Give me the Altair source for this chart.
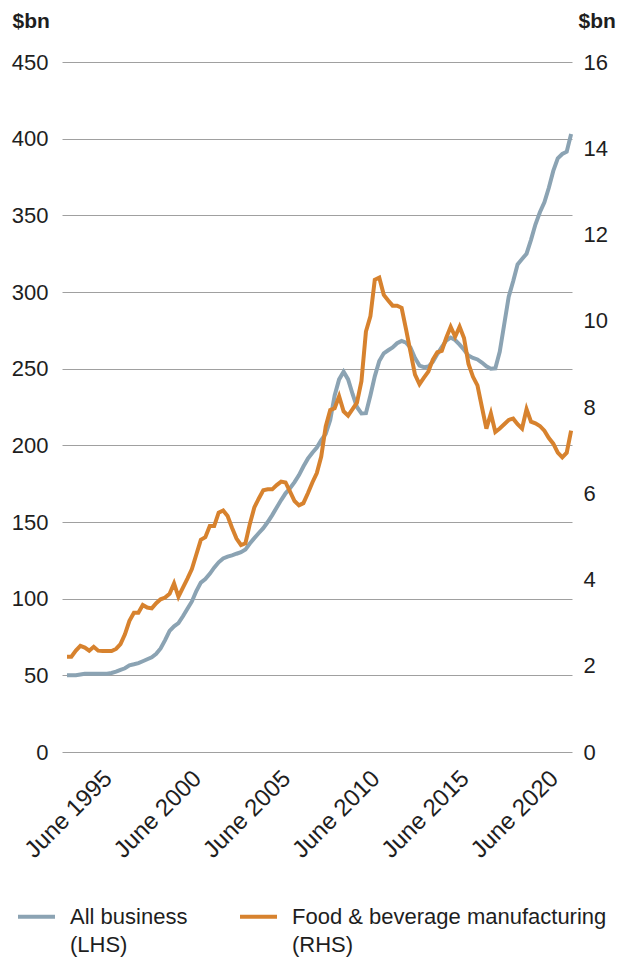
import altair as alt
import pandas as pd

# Quarterly observations, Dec 1992 - Mar 2021
dates = pd.date_range("1992-12-01", periods=114, freq="3MS").strftime("%Y-%m-%d").tolist()

all_business = [
    50, 50, 50, 50.5, 51, 51, 51, 51, 51, 51,
    51.5, 52.4, 53.6, 54.6, 56.5, 57.2, 58, 59.2, 60.5, 61.8,
    64, 67.5, 73, 79, 82, 84, 88.5, 93.4, 98.2, 105,
    110.5, 112.8, 116.2, 120.2, 123.7, 126.2, 127.4, 128.2, 129.3, 130.3,
    132, 136, 139.5, 142.8, 146, 150, 154.5, 159.5, 164.3, 168.7,
    172, 176, 180.6, 186.2, 191.3, 195.2, 198.5, 203.4, 207.5, 216.5,
    232.5, 243, 248, 243, 233.5, 225, 220.8, 221, 232.5, 245,
    255, 260, 262, 263.8, 266.6, 268.1, 267, 263.7, 257, 252,
    251, 251.4, 254.5, 259.5, 264, 268.3, 270.3, 268.7, 265.7, 262.3,
    258.5, 257, 256, 254, 251.5, 250, 250.2, 261, 279, 297,
    307, 318, 321.5, 325, 334, 344, 352, 358.5, 368, 379,
    387.2, 390, 391.5, 403,
]

food_beverage = [
    2.21, 2.21, 2.35, 2.46, 2.42, 2.35, 2.44, 2.35, 2.34, 2.34,
    2.34, 2.39, 2.50, 2.73, 3.04, 3.23, 3.23, 3.41, 3.35, 3.33,
    3.45, 3.54, 3.58, 3.67, 3.91, 3.60, 3.81, 4.02, 4.24, 4.58,
    4.92, 4.98, 5.24, 5.24, 5.55, 5.60, 5.47, 5.20, 4.95, 4.80,
    4.84, 5.29, 5.67, 5.88, 6.07, 6.09, 6.09, 6.19, 6.27, 6.25,
    6.04, 5.82, 5.72, 5.77, 6.00, 6.25, 6.47, 6.85, 7.55, 7.93,
    7.97, 8.25, 7.90, 7.80, 7.95, 8.10, 8.60, 9.75, 10.10, 10.95,
    11.00, 10.60, 10.47, 10.35, 10.35, 10.30, 9.80, 9.28, 8.75, 8.53,
    8.68, 8.82, 9.10, 9.27, 9.30, 9.60, 9.86, 9.63, 9.86, 9.60,
    9.00, 8.70, 8.50, 8.00, 7.50, 7.85, 7.42, 7.50, 7.60, 7.70,
    7.73, 7.60, 7.50, 7.95, 7.66, 7.62, 7.56, 7.45, 7.28, 7.15,
    6.94, 6.83, 6.94, 7.45,
]

series_names = ["All business|(LHS)", "Food & beverage manufacturing|(RHS)"]
series_colors = ["#8BA3B3", "#D7822E"]
lhs_ticks = list(range(0, 451, 50))
rhs_ticks = list(range(0, 17, 2))
label_years = [1995, 2000, 2005, 2010, 2015, 2020]

df_all = pd.DataFrame({"date": dates, "value": all_business, "series": series_names[0]})
df_food = pd.DataFrame({"date": dates, "value": food_beverage, "series": series_names[1]})

FONT = "Liberation Sans"
TEXT = "#1E1E1E"
GRID = "#A0A0A0"

x_enc = alt.X(
    "date:T",
    scale=alt.Scale(
        type="utc",
        domain=[
            alt.DateTime(year=1992, month=8, date=21, utc=True),
            alt.DateTime(year=2021, month=3, date=19, utc=True),
        ],
    ),
    axis=alt.Axis(
        values=[alt.DateTime(year=y, month=6, date=1, utc=True) for y in label_years],
        labelExpr="'June ' + utcFormat(datum.value, '%Y')",
        labelAngle=-45,
        labelAlign="right",
        labelBaseline="top",
        labelPadding=14,
        labelFontSize=24,
        labelOffset=-12,
        labelOverlap=False,
        ticks=False,
        domain=False,
        grid=False,
        title=None,
    ),
)

color_enc = alt.Color(
    "series:N",
    scale=alt.Scale(domain=series_names, range=series_colors),
    legend=alt.Legend(
        title=None,
        orient="none",
        legendX=-46,
        legendY=834,
        direction="horizontal",
        symbolType="stroke",
        symbolSize=1369,
        symbolStrokeWidth=4,
        labelExpr="split(datum.label, '|')",
        labelFontSize=22,
        labelFont=FONT,
        labelColor=TEXT,
        labelOffset=13,
        labelLimit=500,
        columnPadding=44,
        padding=0,
    ),
)

left = alt.Chart(df_all).mark_line(strokeWidth=4).encode(
    x=x_enc,
    y=alt.Y(
        "value:Q",
        scale=alt.Scale(domain=[0, 450]),
        axis=alt.Axis(
            values=lhs_ticks,
            title="$bn",
            titleAngle=0,
            titleX=-50,
            titleY=-35,
            titleAlign="left",
            titleBaseline="alphabetic",
            titleFontWeight="bold",
            titleFontSize=21,
            grid=True,
            gridColor=GRID,
            gridWidth=1,
            domain=False,
            ticks=False,
            labelPadding=14,
        ),
    ),
    color=color_enc,
)

right = alt.Chart(df_food).mark_line(strokeWidth=4).encode(
    x=x_enc,
    y=alt.Y(
        "value:Q",
        scale=alt.Scale(domain=[0, 16]),
        axis=alt.Axis(
            orient="right",
            values=rhs_ticks,
            title="$bn",
            titleAngle=0,
            titleX=6,
            titleY=-35,
            titleAlign="left",
            titleBaseline="alphabetic",
            titleFontWeight="bold",
            titleFontSize=21,
            grid=False,
            domain=False,
            ticks=False,
            labelPadding=11,
        ),
    ),
    color=color_enc,
)

chart = (
    alt.layer(left, right)
    .resolve_scale(y="independent")
    .properties(
        width=510,
        height=690,
        autosize=alt.AutoSizeParams(type="none"),
        padding={"left": 54, "top": 54, "right": 47, "bottom": 205},
    )
    .configure(font=FONT, style={"guide-label": {"lineHeight": 28}})
    .configure_view(stroke=None)
    .configure_axis(
        labelFont=FONT,
        labelFontSize=22,
        labelColor=TEXT,
        titleFont=FONT,
        titleColor=TEXT,
    )
)

chart.save("out.html", embed_options={"renderer": "svg", "actions": False})
